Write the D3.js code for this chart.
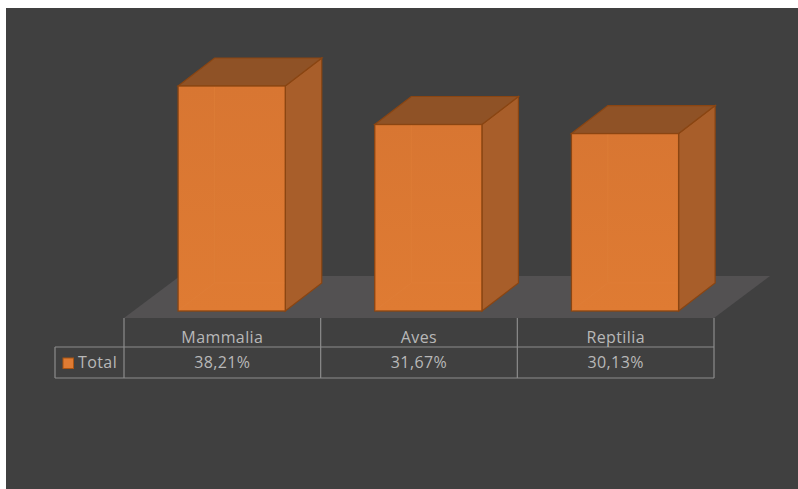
<!DOCTYPE html>
<html>
<head>
<meta charset="utf-8">
<script src="https://cdn.jsdelivr.net/npm/d3@7"></script>
<style>
body { margin: 0; background: #fff; overflow: hidden; }
text { font-family: "Open Sans", sans-serif; font-size: 16px; letter-spacing: 0.4px; fill: #b8b8b8; }
</style>
</head>
<body>
<div id="chart"></div>
<script>
var categories = ['Mammalia', 'Aves', 'Reptilia'];
var values = [38.21, 31.67, 30.13];
var labels = ['38,21%', '31,67%', '30,13%'];
var seriesName = 'Total';

var width = 798;
var height = 489;
var dx = 36.5;   // depth of the 3d boxes
var dy = -28;
var floorDx = 56;
var floorDy = -42;
var baseY = 311;
var floorY = 318;
var rowY = 347;
var tableBottom = 378;
var tableLeft = 55;

var svg = d3.select('#chart')
    .append('svg')
        .attr('width', width)
        .attr('height', height)
        .style('display', 'block');

svg.append('rect')
    .attr('x', 6)
    .attr('y', 8)
    .attr('width', width - 6)
    .attr('height', height - 8)
    .attr('fill', '#404040');

var x = d3.scaleBand()
    .domain(categories)
    .range([124, 714]);

var y = d3.scaleLinear()
    .domain([0, d3.max(values)])
    .range([baseY, 86]);

var barWidth = x.bandwidth() * 0.545;
var barOffset = x.bandwidth() * 0.275;

var defs = svg.append('defs');
var grad = defs.append('linearGradient')
    .attr('id', 'front')
    .attr('x1', 0).attr('y1', 0)
    .attr('x2', 0).attr('y2', 1);
grad.append('stop').attr('offset', '0%').attr('stop-color', '#d87632');
grad.append('stop').attr('offset', '100%').attr('stop-color', '#df7b33');

// floor
var fl = x.range()[0];
var fr = x.range()[1];
svg.append('path')
    .attr('d', d3.line()([[fl, floorY], [fr, floorY], [fr + floorDx, floorY + floorDy], [fl + floorDx, floorY + floorDy]]) + 'Z')
    .attr('fill', '#535152');

var bars = svg.selectAll('.bar')
    .data(categories)
    .enter()
    .append('g')
        .classed('bar', true)
        .attr('transform', d => 'translate(' + (x(d) + barOffset) + ',0)');

var line = d3.line();

// side
bars.append('path')
    .attr('d', (d, i) => {
        var t = y(values[i]);
        return line([[barWidth, t], [barWidth + dx, t + dy], [barWidth + dx, baseY + dy], [barWidth, baseY]]) + 'Z';
    })
    .attr('fill', '#a85e2a')
    .attr('stroke', '#8a4512')
    .attr('stroke-width', 1.2);

// top
bars.append('path')
    .attr('d', (d, i) => {
        var t = y(values[i]);
        return line([[0, t], [dx, t + dy], [barWidth + dx, t + dy], [barWidth, t]]) + 'Z';
    })
    .attr('fill', '#8f5226')
    .attr('stroke', '#8a4512')
    .attr('stroke-width', 1.2);

// front
bars.append('rect')
    .attr('x', 0)
    .attr('y', (d, i) => y(values[i]))
    .attr('width', barWidth)
    .attr('height', (d, i) => baseY - y(values[i]))
    .attr('fill', 'url(#front)')
    .attr('stroke', '#8a4512')
    .attr('stroke-width', 1.3);

// hidden edges that show through the see-through box
bars.append('path')
    .attr('d', (d, i) => {
        var t = y(values[i]);
        return line([[dx, t + 1], [dx, baseY + dy], [1, baseY - 1]]) + line([[dx, baseY + dy], [barWidth - 1, baseY + dy]]);
    })
    .attr('fill', 'none')
    .attr('stroke', '#e07f38')
    .attr('stroke-width', 1)
    .attr('opacity', 0.6);

// data table
var tableColor = '#8c8c8c';
var grid = svg.append('g')
    .attr('stroke', tableColor)
    .attr('stroke-width', 1.2)
    .attr('fill', 'none');

grid.append('path').attr('d', line([[tableLeft, rowY], [fr, rowY]]));
grid.append('path').attr('d', line([[tableLeft, tableBottom], [fr, tableBottom]]));
grid.append('path').attr('d', line([[tableLeft, rowY], [tableLeft, tableBottom]]));

grid.selectAll('.sep')
    .data(x.domain().map(d => x(d)).concat([fr]))
    .enter()
    .append('path')
        .classed('sep', true)
        .attr('d', d => line([[d, floorY], [d, tableBottom]]));

svg.selectAll('.cat')
    .data(categories)
    .enter()
    .append('text')
        .classed('cat', true)
        .attr('x', d => x(d) + x.bandwidth() / 2)
        .attr('y', 343)
        .attr('text-anchor', 'middle')
        .text(d => d);

svg.selectAll('.val')
    .data(labels)
    .enter()
    .append('text')
        .classed('val', true)
        .attr('x', (d, i) => x(categories[i]) + x.bandwidth() / 2)
        .attr('y', 368)
        .attr('text-anchor', 'middle')
        .text(d => d);

// legend key
svg.append('rect')
    .attr('x', 63)
    .attr('y', 358)
    .attr('width', 10.5)
    .attr('height', 10.5)
    .attr('fill', '#df7b33')
    .attr('stroke', '#a85413')
    .attr('stroke-width', 1);

svg.append('text')
    .attr('x', 78)
    .attr('y', 368)
    .text(seriesName);
</script>
</body>
</html>
